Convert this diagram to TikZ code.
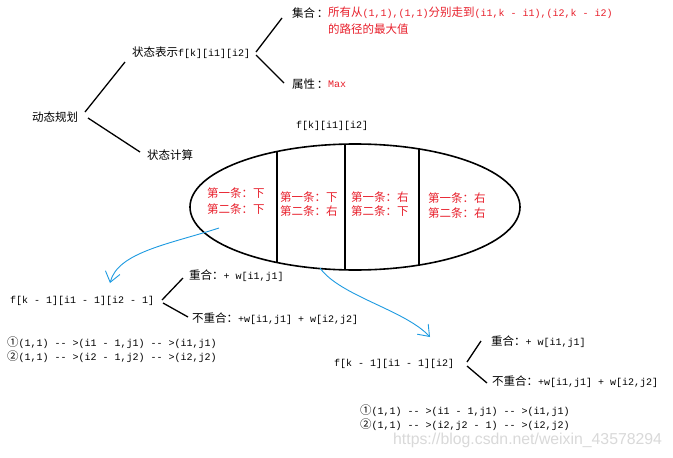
\documentclass[tikz,border=0pt]{standalone}
\usepackage{fontspec}
\setmainfont{Liberation Mono}
\newfontfamily\cjk{Noto Sans CJK SC}[Scale=1.15]
\newfontfamily\wmfont{Liberation Sans}
\usetikzlibrary{arrows.meta}
\definecolor{redtxt}{RGB}{232,32,44}
\definecolor{bluearr}{RGB}{30,155,225}
\newcommand\zh[1]{{\cjk #1}}
\newcommand\dd{-{}-}
\begin{document}
\begin{tikzpicture}[x=1pt,y=-1pt,
  txt/.style={inner sep=0pt,anchor=west,font=\fontsize{10}{12}\selectfont},
  red/.style={txt,text=redtxt},
  tree/.style={line width=1.3pt,black},
  blue/.style={line width=0.9pt,bluearr,-{Straight Barb[length=10pt,width=15pt,line width=0.9pt]}}]
\useasboundingbox (0,0) rectangle (673,458);
\fill[white] (0,0) rectangle (673,458);

% top tree
\node[txt] (dp) at (32,117) {\zh{动态规划}};
\node[txt] (zt) at (132,53) {\zh{状态表示}f[k][i1][i2]};
\node[txt] (zj) at (147,155) {\zh{状态计算}};
\node[txt] (js) at (292,13) {\zh{集合}\,\zh{：}};
\node[red] (jsa) at (328,13) {\zh{所有从}(1,1),(1,1)\zh{分别走到}(i1,k - i1),(i2,k - i2)};
\node[red] (jsb) at (328,29) {\zh{的路径的最大值}};
\node[txt] (sx) at (292,84) {\zh{属性}\,\zh{：}};
\node[red] (mx) at (328,84) {Max};

\coordinate (a1) at (85,112); \coordinate (a2) at (125,62);
\coordinate (b1) at (88,118); \coordinate (b2) at (140,152);
\coordinate (c1) at (256,52); \coordinate (c2) at (282,18);
\coordinate (d1) at (256,55); \coordinate (d2) at (284,83);
\draw[tree] (a1) -- (a2);
\draw[tree] (b1) -- (b2);
\draw[tree] (c1) -- (c2);
\draw[tree] (d1) -- (d2);

% ellipse
\node[txt] (fk) at (296,126) {f[k][i1][i2]};
\draw[line width=1.6pt] (355,207) ellipse [x radius=165pt, y radius=63pt];
\begin{scope}
\clip (355,207) ellipse [x radius=165pt, y radius=63pt];
\draw[line width=1.6pt] (277,130) -- (277,290);
\draw[line width=1.6pt] (345,130) -- (345,290);
\draw[line width=1.6pt] (419,130) -- (419,290);
\end{scope}
\node[red] (k1a) at (207,193) {\zh{第一条：下}};
\node[red] (k1b) at (207,209) {\zh{第二条：下}};
\node[red] (k2a) at (280,197) {\zh{第一条：下}};
\node[red] (k2b) at (280,211) {\zh{第二条：右}};
\node[red] (k3a) at (351,197) {\zh{第一条：右}};
\node[red] (k3b) at (351,211) {\zh{第二条：下}};
\node[red] (k4a) at (428,198) {\zh{第一条：右}};
\node[red] (k4b) at (428,213) {\zh{第二条：右}};

% left branch
\node[txt] (f1) at (10,301) {f[k - 1][i1 - 1][i2 - 1]};
\node[txt] (r1) at (189,276) {\zh{重合：}+ w[i1,j1]};
\node[txt] (n1) at (192,319) {\zh{不重合：}+w[i1,j1] + w[i2,j2]};
\node[txt] (p1) at (7,343) {\zh{①}(1,1) \dd{} >(i1 - 1,j1) \dd{} >(i1,j1)};
\node[txt] (p2) at (7,357) {\zh{②}(1,1) \dd{} >(i2 - 1,j2) \dd{} >(i2,j2)};
\coordinate (e1) at (162,300); \coordinate (e2) at (183,278);
\coordinate (g1) at (163,303); \coordinate (g2) at (188,317);
\draw[tree] (e1) -- (e2);
\draw[tree] (g1) -- (g2);

% right branch
\node[txt] (f2) at (334,364) {f[k - 1][i1 - 1][i2]};
\node[txt] (r2) at (491,342) {\zh{重合：}+ w[i1,j1]};
\node[txt] (n2) at (492,382) {\zh{不重合：}+w[i1,j1] + w[i2,j2]};
\node[txt] (q1) at (360,411) {\zh{①}(1,1) \dd{} >(i1 - 1,j1) \dd{} >(i1,j1)};
\node[txt] (q2) at (360,425) {\zh{②}(1,1) \dd{} >(i2,j2 - 1) \dd{} >(i2,j2)};
\coordinate (h1) at (467,362); \coordinate (h2) at (481,341);
\coordinate (m1) at (467,366); \coordinate (m2) at (487,383);
\draw[tree] (h1) -- (h2);
\draw[tree] (m1) -- (m2);

% blue arrows
\coordinate (s1) at (219,228); \coordinate (t1) at (110,283);
\coordinate (s2) at (320,268); \coordinate (t2) at (430,337);
\draw[blue] (s1) .. controls (170,244) and (118,252) .. (t1);
\draw[blue] (s2) .. controls (340,296) and (405,310) .. (t2);

% watermark
\node[inner sep=0pt,anchor=west,text=black!15,font=\wmfont\fontsize{15.8}{18}\selectfont] (wm) at (393,440) {https://blog.csdn.net/weixin\_43578294};
\end{tikzpicture}
\end{document}
